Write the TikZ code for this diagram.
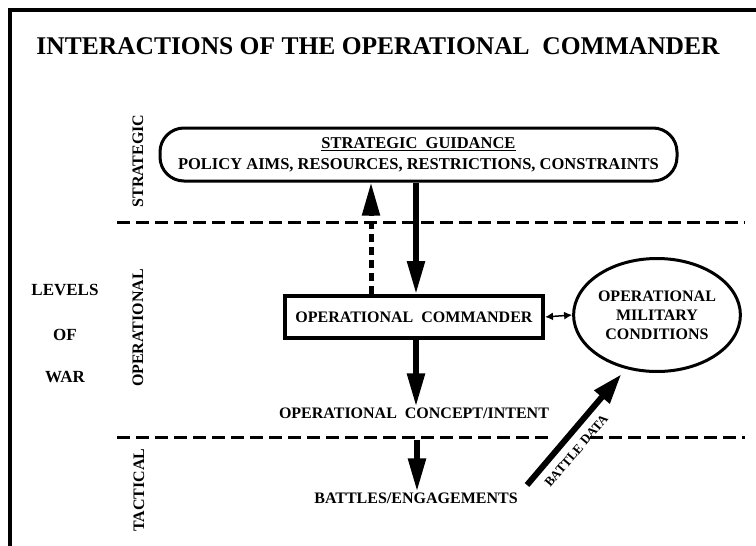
\documentclass[tikz,border=0pt]{standalone}
\usepackage{fontspec}
\setmainfont{Liberation Serif}
\usetikzlibrary{arrows.meta,positioning,shapes.geometric}

\tikzset{
  txt/.style={font=\bfseries\fontsize{16}{19}\selectfont, inner sep=1pt, align=center},
  levelname/.style={txt, rotate=90},
  levelsep/.style={line width=3pt, dash pattern=on 13pt off 6pt},
  flow/.style={line width=5.5pt, -{Triangle[length=33pt,width=17pt]}},
  feedback/.style={line width=5pt, dash pattern=on 8pt off 5pt, -{Triangle[length=33pt,width=17pt]}},
}

\begin{document}
\begin{tikzpicture}[x=1pt,y=-1pt]

\useasboundingbox (0,0) rectangle (756,546);

% frame
\draw[line width=4pt] (10,548) -- (10,10) -- (758,10);

\node[font=\bfseries\fontsize{25.5}{30}\selectfont] (title) at (378,46)
  {INTERACTIONS OF THE OPERATIONAL\ \ COMMANDER};

\coordinate (lvl1) at (65,290);
\node[txt, font=\bfseries\fontsize{17}{20}\selectfont] (levels) at (lvl1) {LEVELS};
\coordinate (lvl2) at (65,335);
\node[txt, font=\bfseries\fontsize{17}{20}\selectfont] (of) at (lvl2) {OF};
\coordinate (lvl3) at (65,377);
\node[txt, font=\bfseries\fontsize{17}{20}\selectfont] (war) at (lvl3) {WAR};

\node[levelname] (strat) at (138,161) {STRATEGIC};
\node[levelname] (oper) at (138,328) {OPERATIONAL};
\node[levelname] (tact) at (139,490) {TACTICAL};

    \begin{scope} % Level boundaries
        \coordinate (sl) at (117,222);
        \coordinate (sr) at (745,222);
        \coordinate (tl) at (117,437);
        \coordinate (tm1) at (553,437);
        \coordinate (tm2) at (590,437);
        \coordinate (tr) at (745,437);
        \draw[levelsep] (sl) -- (sr);
        \draw[levelsep] (tl) -- (tm1);
        \draw[levelsep] (tm2) -- (tr);
    \end{scope}

\node[txt, draw, line width=3pt, rounded corners=24pt, minimum width=517pt,
      minimum height=53pt, inner sep=0pt, font=\bfseries\fontsize{16.5}{21}\selectfont]
  (guide) at (418.5,154.5)
  {\underline{STRATEGIC\ \ GUIDANCE}\\POLICY AIMS, RESOURCES, RESTRICTIONS, CONSTRAINTS};

\node[txt, draw, line width=4pt, minimum width=258pt, minimum height=42pt]
  (cmdr) at (414,317) {OPERATIONAL\ \ COMMANDER};

\node[txt, draw, ellipse, line width=3pt, minimum width=155pt, minimum height=113pt,
      inner sep=0pt] (cond) at (657,315) {OPERATIONAL\\MILITARY\\CONDITIONS};

\node[txt] (concept) at (414,413) {OPERATIONAL\ \ CONCEPT/INTENT};
\node[txt] (battles) at (416,498) {BATTLES/ENGAGEMENTS};

\coordinate (down) at (416,0);
\coordinate (up) at (371,0);
\coordinate (tact top) at (417,440);
\coordinate (bd) at (527,485);

    \begin{scope} % Flow between levels
        \draw[flow] (guide.south -| down) -- (cmdr.north -| down);
        \draw[feedback] (cmdr.north -| up) -- (guide.south -| up);
        \draw[flow] (cmdr.south -| down) -- (concept.north -| down);
        \draw[flow] (tact top) -- (battles.north -| tact top);
        \draw[line width=1.5pt, {Latex[length=8pt,width=8pt]}-{Latex[length=8pt,width=8pt]}]
          (cmdr.east) -- (cond.west);
        \draw[line width=6pt, shorten >=7pt, -{Triangle[length=30pt,width=19pt]}]
          (bd) -- node[pos=0.38, sloped, below=8pt, font=\bfseries\fontsize{13}{15}\selectfont,
                       inner sep=0pt] (bdata) {BATTLE DATA} (cond.240);
    \end{scope}

\end{tikzpicture}
\end{document}
